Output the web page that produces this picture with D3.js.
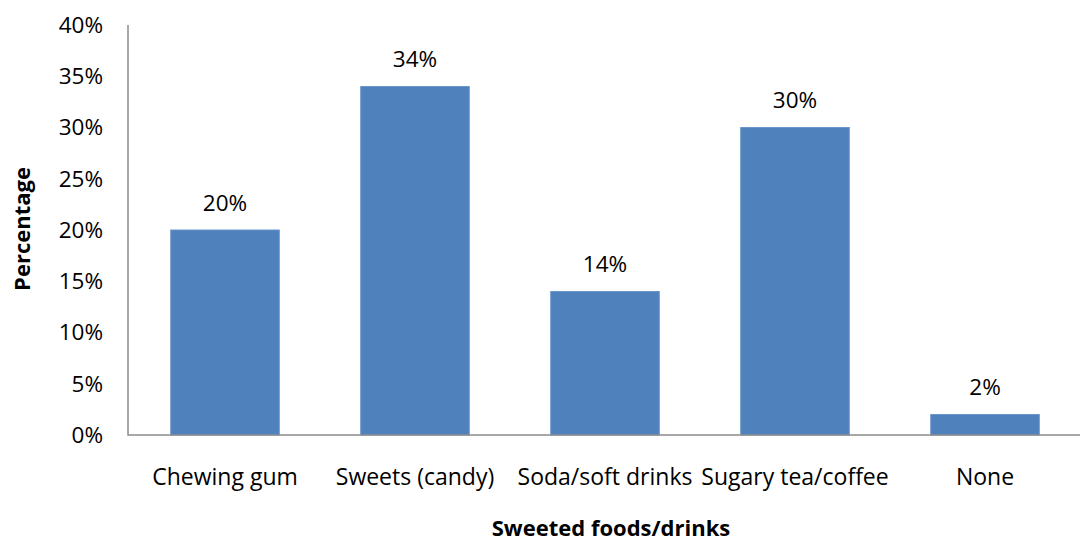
<!DOCTYPE html>
<html>
<head>
<meta charset="utf-8">
<script src="https://cdn.jsdelivr.net/npm/d3@7"></script>
<style>
  html, body { margin: 0; padding: 0; background: #fff; }
  svg { display: block; font-family: "Open Sans", "Noto Sans", sans-serif; }
</style>
</head>
<body>
<svg id="chart" width="1080" height="541"></svg>
<script>
// Share of respondents consuming each sweetened item
const categories = ["Chewing gum", "Sweets (candy)", "Soda/soft drinks", "Sugary tea/coffee", "None"];
const values = [20, 34, 14, 30, 2];
const yTicks = [0, 5, 10, 15, 20, 25, 30, 35, 40];
const xTitle = "Sweeted foods/drinks";
const yTitle = "Percentage";

const svg = d3.select("#chart");
const W = 1080, H = 541;
const axisX = 128, plotTop = 25, plotBottom = 435;

const x = d3.scaleBand()
  .domain(categories)
  .range([130, W])
  .paddingInner(0.4286)
  .paddingOuter(0.2143);

const y = d3.scaleLinear().domain([0, 40]).range([plotBottom, plotTop]);

// bars
svg.append("g").selectAll("rect")
  .data(values)
  .join("rect")
  .attr("x", (d, i) => x(categories[i]))
  .attr("width", x.bandwidth())
  .attr("y", d => y(d))
  .attr("height", d => plotBottom - y(d))
  .attr("fill", "#4f81bd")
  .attr("stroke", "#6b96cb")
  .attr("stroke-width", 1);

// value labels above bars
svg.append("g").selectAll("text")
  .data(values)
  .join("text")
  .attr("x", (d, i) => x(categories[i]) + x.bandwidth() / 2)
  .attr("y", d => y(d) - 19.5)
  .attr("text-anchor", "middle")
  .attr("font-size", 22.5)
  .attr("fill", "#000")
  .text(d => d + "%");

// y axis labels
const yAxis = svg.append("g")
  .attr("transform", `translate(${axisX},0)`)
  .call(d3.axisLeft(y).tickValues(yTicks).tickFormat(d => d + "%").tickSize(0).tickPadding(25));
yAxis.select(".domain").remove();
yAxis.selectAll("text")
  .attr("font-size", 22.5)
  .attr("fill", "#000")
  .attr("font-family", "Open Sans, sans-serif")
  .attr("dy", "0.33em");

// x axis labels
const xAxis = svg.append("g")
  .attr("transform", `translate(0,${plotBottom})`)
  .call(d3.axisBottom(x).tickSize(0));
xAxis.select(".domain").remove();
xAxis.selectAll("text")
  .attr("font-size", 23)
  .attr("fill", "#000")
  .attr("font-family", "Open Sans, sans-serif")
  .attr("y", 50)
  .attr("dy", 0);

// axis lines
svg.append("path")
  .attr("d", `M${axisX},${plotTop}V${plotBottom}H${W}`)
  .attr("fill", "none")
  .attr("stroke", "#8c8c8c")
  .attr("stroke-width", 1.5);

// axis titles
svg.append("text")
  .attr("x", 611)
  .attr("y", 536)
  .attr("text-anchor", "middle")
  .attr("font-size", 22)
  .attr("font-weight", "bold")
  .text(xTitle);

svg.append("text")
  .attr("transform", "translate(30,229) rotate(-90)")
  .attr("text-anchor", "middle")
  .attr("font-size", 22)
  .attr("font-weight", "bold")
  .text(yTitle);
</script>
</body>
</html>
